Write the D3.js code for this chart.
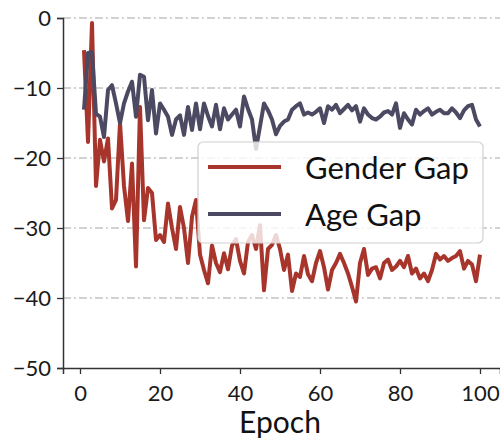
<!DOCTYPE html>
<html>
<head>
<meta charset="utf-8">
<script src="https://cdn.jsdelivr.net/npm/d3@7"></script>
<style>
  body { margin: 0; background: #fff; }
  svg { display: block; font-family: Lato, "Open Sans", sans-serif; }
</style>
</head>
<body>
<script>
const epochs = d3.range(1, 101);
const genderGap = [
  -4.6, -17.7, -0.7, -24, -17.4, -20.5, -17.2, -27.2, -26, -15,
  -24, -29, -20.8, -35.5, -12.7, -28.9, -24.3, -25, -31.7, -31,
  -32, -26.5, -30, -33, -27, -30, -35, -28.4, -26, -33.8,
  -36, -37.9, -32.5, -35, -36.3, -33.6, -35.9, -32.5, -31.6, -34.7,
  -36.5, -32, -31, -33, -29.6, -38.9, -33, -32.4, -31, -33,
  -36, -33.8, -39, -36.5, -37, -34, -36.6, -37.6, -35, -33.3,
  -35.6, -38.8, -36, -35, -33.7, -35, -36.5, -38.4, -40.5, -35,
  -33, -36.7, -35.8, -35.6, -37.2, -35, -34.5, -36, -35.5, -34.7,
  -35.6, -34, -36.5, -35.8, -37.2, -36.5, -37.6, -36, -33.7, -34.5,
  -34, -34.7, -34.3, -34, -33.3, -35.8, -34.7, -35.2, -37.6, -33.8
];
const ageGap = [
  -13.1, -5, -4.9, -13.7, -14.1, -17, -10.3, -9.6, -12.2, -15,
  -12.2, -10.5, -9.1, -14.1, -8.1, -8.4, -14.6, -10.3, -16.5, -12.2,
  -13.1, -14.1, -16.7, -14.5, -13.9, -16.7, -12.7, -16, -12.2, -15.9,
  -12.2, -14, -15.5, -12.4, -15.9, -12.9, -14.5, -13.8, -13.1, -15.5,
  -11.2, -13, -14.5, -18.7, -15.5, -12.2, -13.2, -14.5, -16.6, -15.4,
  -14.8, -14.5, -13.1, -12.6, -12.2, -13.8, -13.5, -13.8, -13.4, -12.9,
  -15, -12.6, -13.1, -12.4, -13.6, -13, -12.4, -13.2, -12.6, -14.8,
  -12.9, -13.8, -14.3, -14.5, -14.1, -13.5, -13.3, -13.8, -12.2, -15.7,
  -13.6, -14.5, -15.2, -13.1, -13.8, -13.3, -12.9, -13.8, -13.4, -13.1,
  -13.6, -13.6, -12.9, -13.5, -14.3, -13.2, -12.6, -12.4, -14.5, -15.5
];
const xTicks = [0, 20, 40, 60, 80, 100];
const yTicks = [-50, -40, -30, -20, -10, 0];
const seriesNames = ["Gender Gap", "Age Gap"];
const seriesColors = ["#a8352c", "#4b4a62"];

const width = 500, height = 438;
const margin = { top: 18, left: 63, bottom: 70, right: 0 };

const svg = d3.select("body").append("svg")
  .attr("width", width)
  .attr("height", height);

const x = d3.scaleLinear()
  .domain([-4.25, 105])
  .range([margin.left, width - margin.right]);
const y = d3.scaleLinear()
  .domain([-50, 0])
  .range([height - margin.bottom, margin.top]);

// dash-dot grid
svg.append("g")
  .selectAll("line")
  .data(yTicks.filter(d => d > -50))
  .enter().append("line")
  .attr("x1", margin.left)
  .attr("x2", width)
  .attr("y1", d => y(d))
  .attr("y2", d => y(d))
  .attr("stroke", "#c4c4c4")
  .attr("stroke-width", 1.4)
  .attr("stroke-dasharray", "8,3,2,3");

const line = d3.line()
  .x((d, i) => x(epochs[i]))
  .y(d => y(d));

[genderGap, ageGap].forEach((s, k) => {
  svg.append("path")
    .datum(s)
    .attr("d", line)
    .attr("fill", "none")
    .attr("stroke", seriesColors[k])
    .attr("stroke-width", 4)
    .attr("stroke-linejoin", "round");
});

// axes
const xAxis = svg.append("g")
  .attr("transform", "translate(0," + y(-50) + ")")
  .call(d3.axisBottom(x).tickValues(xTicks).tickSize(6).tickPadding(11));
const yAxis = svg.append("g")
  .attr("transform", "translate(" + margin.left + ",0)")
  .call(d3.axisLeft(y).tickValues(yTicks).tickSize(6).tickPadding(6)
    .tickFormat(d => d3.format("")(d).replace("-", "\u2212")));

[xAxis, yAxis].forEach(a => {
  a.select(".domain").attr("stroke", "#333").attr("stroke-width", 1.5);
  a.selectAll(".tick line").attr("stroke", "#333").attr("stroke-width", 1.3);
  a.selectAll("text")
    .attr("fill", "#1a1a1a")
    .style("font-size", "22px")
    .style("font-family", "Lato, sans-serif");
});

svg.append("text")
  .attr("x", x(50))
  .attr("y", 433)
  .attr("text-anchor", "middle")
  .attr("fill", "#111")
  .style("font-size", "30px")
  .text("Epoch");

// legend
const legend = svg.append("g").attr("transform", "translate(198,142)");
legend.append("rect")
  .attr("width", 285)
  .attr("height", 101)
  .attr("rx", 5)
  .attr("fill", "#fff")
  .attr("fill-opacity", 0.8)
  .attr("stroke", "#d0d0d0")
  .attr("stroke-width", 1.2);
const items = legend.selectAll("g.item")
  .data(seriesNames)
  .enter().append("g")
  .attr("class", "item")
  .attr("transform", (d, i) => "translate(0," + (25 + i * 47) + ")");
items.append("line")
  .attr("x1", 10).attr("x2", 83)
  .attr("stroke", (d, i) => seriesColors[i])
  .attr("stroke-width", 4);
items.append("text")
  .attr("x", 107)
  .attr("y", 12)
  .attr("fill", "#111")
  .style("font-size", "31px")
  .text(d => d);
</script>
</body>
</html>
